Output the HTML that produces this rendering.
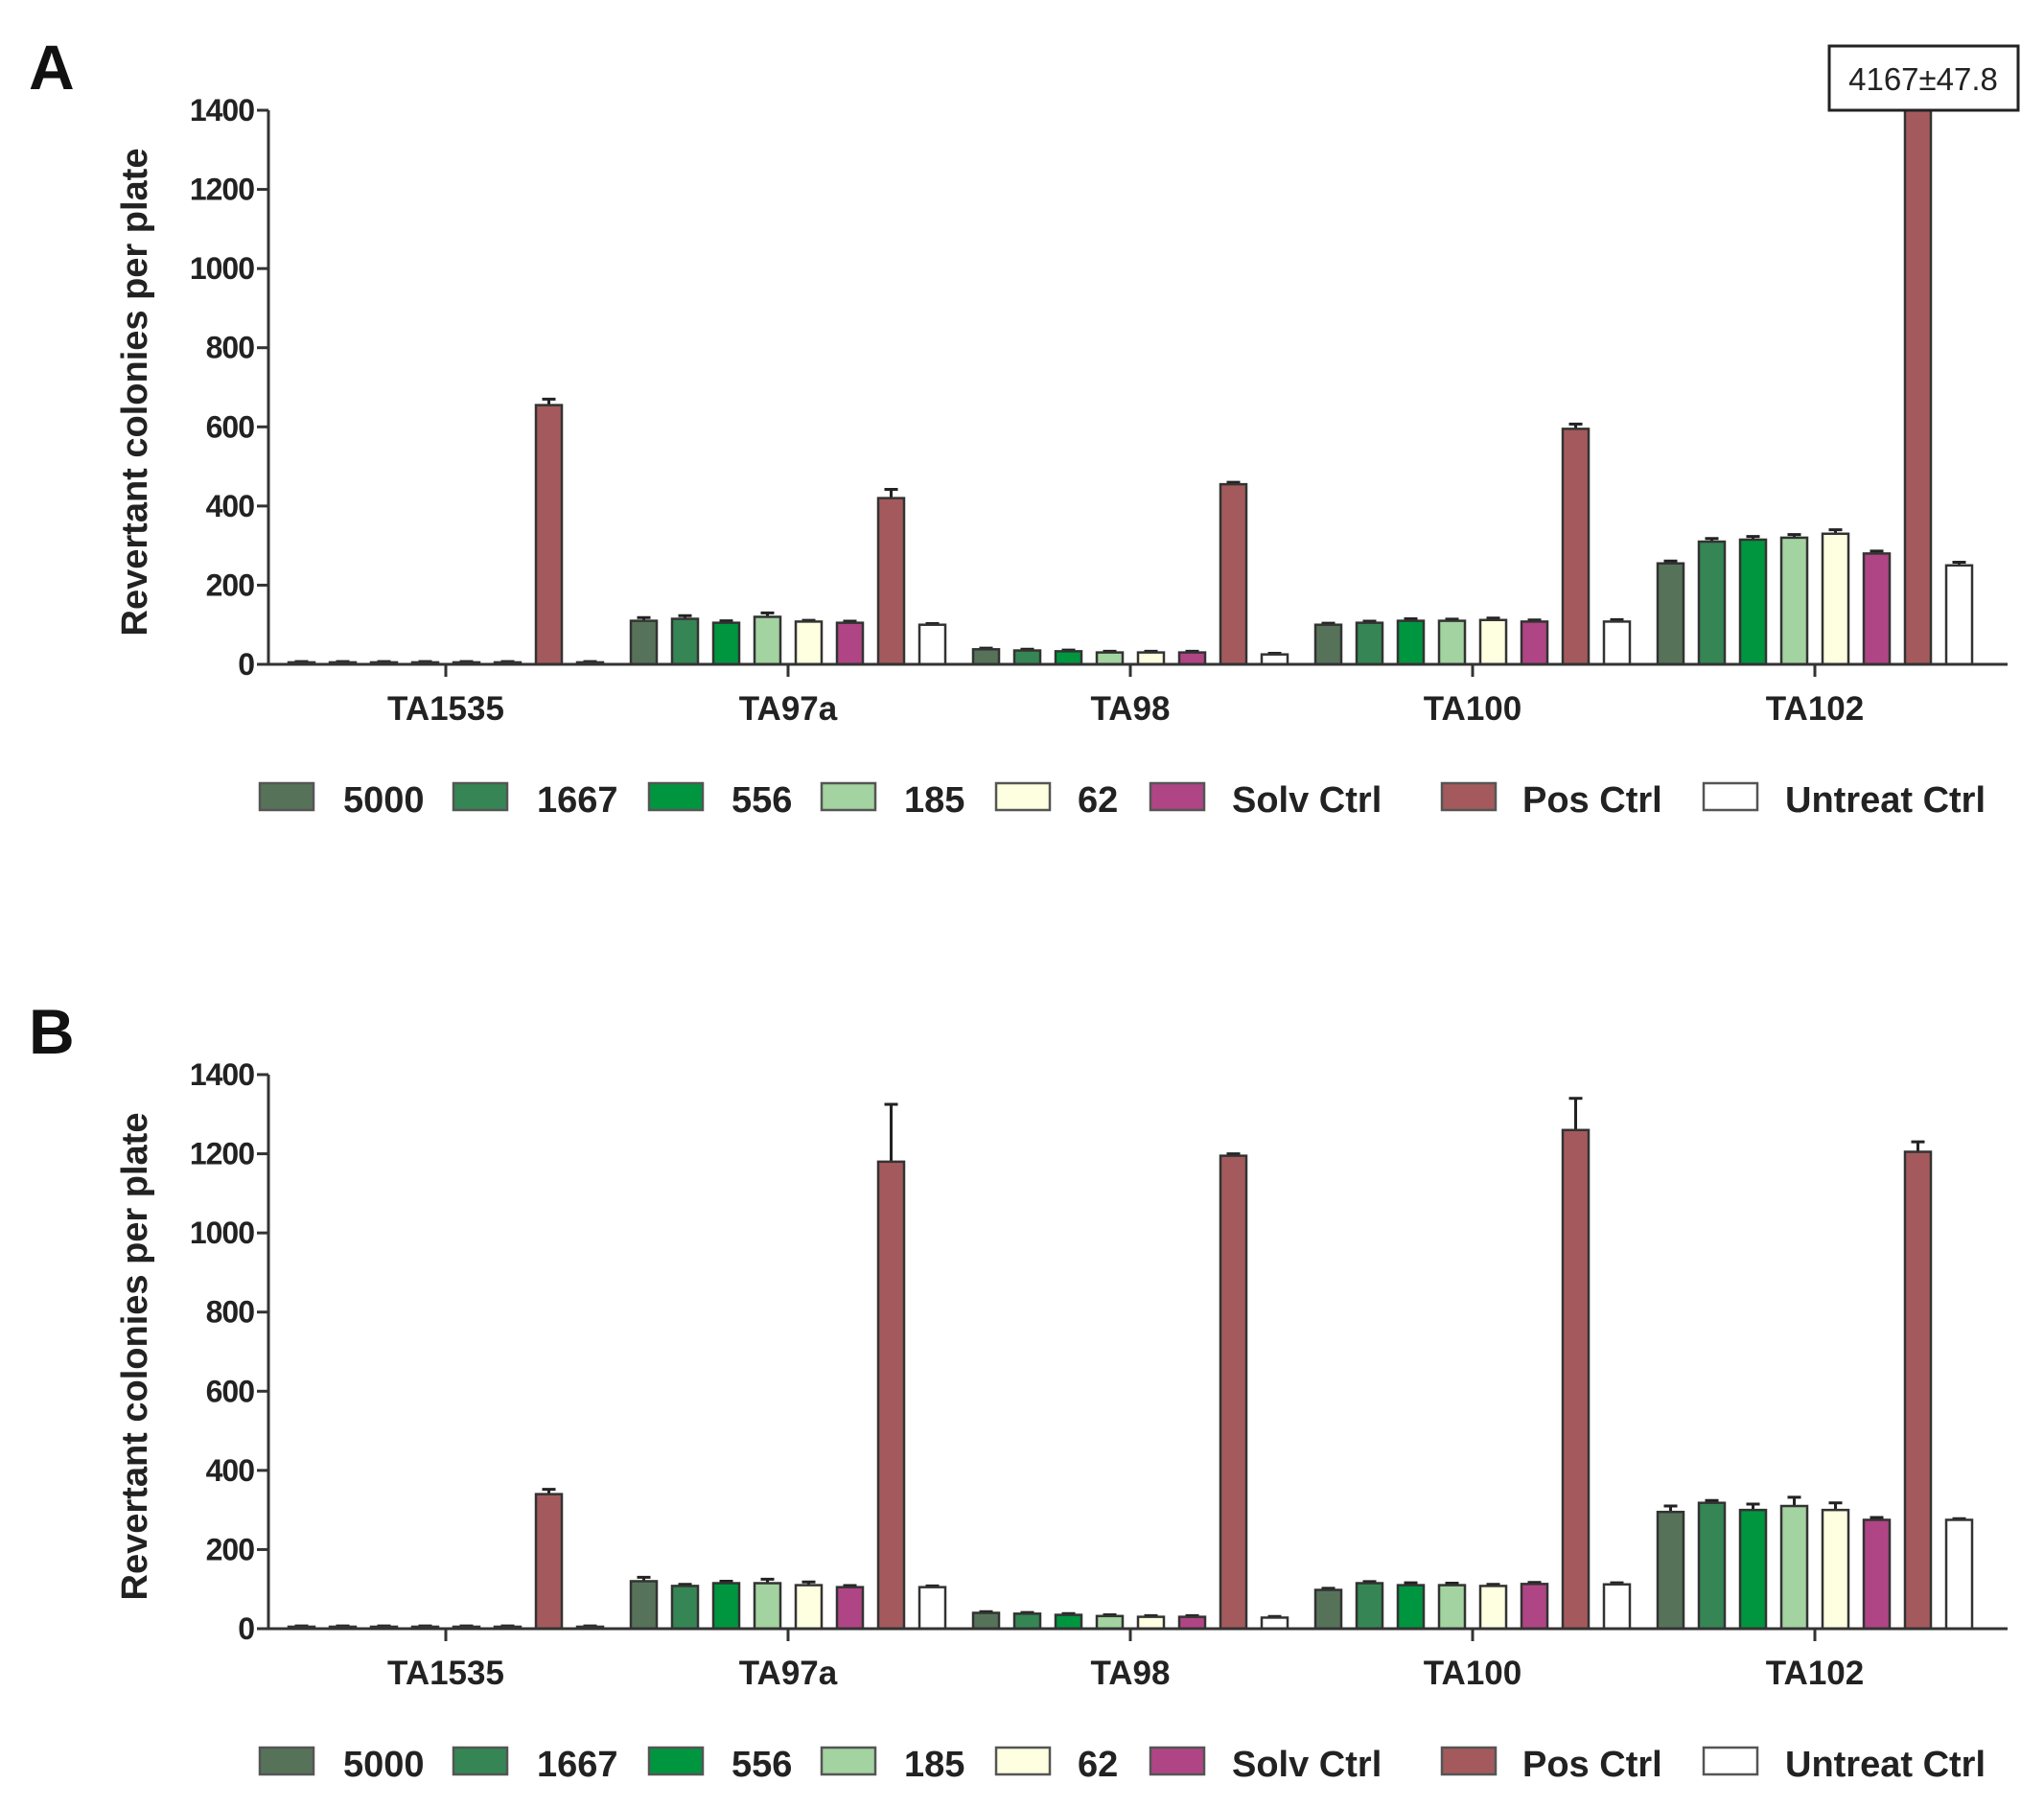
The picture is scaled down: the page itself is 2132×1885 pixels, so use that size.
<!DOCTYPE html>
<html><head><meta charset="utf-8"><style>
html,body{margin:0;padding:0;background:#fff;}
svg{display:block;font-family:"Liberation Sans",Arial,sans-serif;}
</style></head><body>
<svg id="fig" width="2132" height="1885" viewBox="0 0 2132 1885"></svg>
<script>
const groups = ["TA1535","TA97a","TA98","TA100","TA102"];
const seriesNames = ["5000","1667","556","185","62","Solv Ctrl","Pos Ctrl","Untreat Ctrl"];
const seriesColors = ["#56735a","#358654","#00963f","#a3d3a0","#fefee0","#b04585","#a45a5c","#ffffff"];
const yTicks = [0,200,400,600,800,1000,1200,1400];
const valuesA = [
 [5,5,5,5,5,5,655,5],
 [110,115,105,120,108,105,420,100],
 [38,35,33,30,30,30,455,25],
 [100,105,110,110,112,108,595,108],
 [255,310,315,320,330,280,4167,250]
];
const errorsA = [
 [2,2,2,2,2,2,15,2],
 [8,8,5,10,3,4,22,3],
 [3,3,3,3,3,3,5,3],
 [4,4,5,4,5,4,12,5],
 [6,8,8,8,10,6,48,8]
];
const valuesB = [
 [5,5,5,5,5,5,340,5],
 [120,108,115,115,110,105,1180,105],
 [40,38,35,32,30,30,1195,28],
 [98,115,110,110,108,113,1260,112],
 [295,318,300,310,300,275,1205,275]
];
const errorsB = [
 [2,2,2,2,2,2,12,2],
 [10,4,5,10,8,4,145,3],
 [3,3,3,3,3,3,5,3],
 [4,4,6,5,4,4,80,4],
 [15,6,15,22,18,6,25,3]
];
const NS="http://www.w3.org/2000/svg";
const svg=document.getElementById('fig');
function mk(tag,attrs,parent){const e=document.createElementNS(NS,tag);for(const k in attrs)e.setAttribute(k,attrs[k]);(parent||svg).appendChild(e);return e;}

function panel(letter,top,vals,errs){
  const g=mk('g',{});
  
  
  const x0=280,x1=2094,y0=top+578,yTop=top;
  const yMax=1400;
  const ys=v=>y0-(Math.min(v,yMax+12)/yMax)*(y0-yTop);
  const gc=i=>465+i*357;
  const bx=(i,j)=>gc(i)+(j-3.5)*43;
  const bw=27;
  const lt=mk('text',{x:30,y:top-22,'font-size':66,'font-weight':'bold',fill:'#111'},g);
  lt.textContent=letter;
  
  
  for(let i=0;i<groups.length;i++){
    for(let j=0;j<seriesNames.length;j++){
      const v=vals[i][j],e=errs[i][j];
      const x=bx(i,j);
      if(v<=yMax){
        const ey=ys(v+e);
        const l=mk('path',{d:`M${x} ${ys(v)}V${ey}M${x-7} ${ey}H${x+7}`,stroke:'#222','stroke-width':3,fill:'none'},g);
        
        
      }
      const top2=v>yMax?yTop-3:ys(v);
      const r=mk('rect',{x:x-bw/2,y:top2,width:bw,height:y0-top2,fill:seriesColors[j],stroke:'#333','stroke-width':2.5},g);
      
      
    }
  }
  const ax=mk('path',{d:`M${x0} ${yTop}V${y0}H${x1}`,stroke:'#333','stroke-width':3,fill:'none'},g);
  
  
  for(const t of yTicks){
    const y=ys(t);
    mk('path',{d:`M${x0-12} ${y}H${x0}`,stroke:'#333','stroke-width':3},g);
    const tt=mk('text',{x:x0-15,y:y+11,'text-anchor':'end','font-size':32,'font-weight':'bold',fill:'#222','letter-spacing':'-1'},g);
    tt.textContent=t;
    
    
  }
  for(let i=0;i<groups.length;i++){
    mk('path',{d:`M${gc(i)} ${y0}v13`,stroke:'#333','stroke-width':3},g);
    const t=mk('text',{x:gc(i),y:y0+58,'text-anchor':'middle','font-size':35,'font-weight':'bold',fill:'#222'},g);
    t.textContent=groups[i];
    
    
  }
  const yt=mk('text',{x:0,y:0,transform:`translate(153 ${(yTop+y0)/2+5}) rotate(-90)`,'text-anchor':'middle','font-size':38,'font-weight':'bold',fill:'#222'},g);
  yt.textContent='Revertant colonies per plate';
  
  
  const boxX=[271,473,677,857,1039,1200,1504,1777];
  const txtX=[358,560,763,943,1124,1285,1588,1862];
  const ly=y0+152;
  for(let j=0;j<seriesNames.length;j++){
    const lg=mk('g',{},g);
    
    
    mk('rect',{x:boxX[j],y:ly-28,width:56,height:28,fill:seriesColors[j],stroke:'#555','stroke-width':2.5},lg);
    const t=mk('text',{x:txtX[j],y:ly+2,'font-size':38,'font-weight':'bold',fill:'#222'},lg);
    t.textContent=seriesNames[j];
  }
}
panel('A',115,valuesA,errorsA);
panel('B',1121,valuesB,errorsB);
const bg=mk('g',{});


mk('rect',{x:1908,y:48,width:197,height:67,fill:'#fff',stroke:'#222','stroke-width':3},bg);
const ct=mk('text',{x:2006,y:94,'text-anchor':'middle','font-size':33,fill:'#222'},bg);
ct.textContent='4167±47.8';
</script>
</body></html>
